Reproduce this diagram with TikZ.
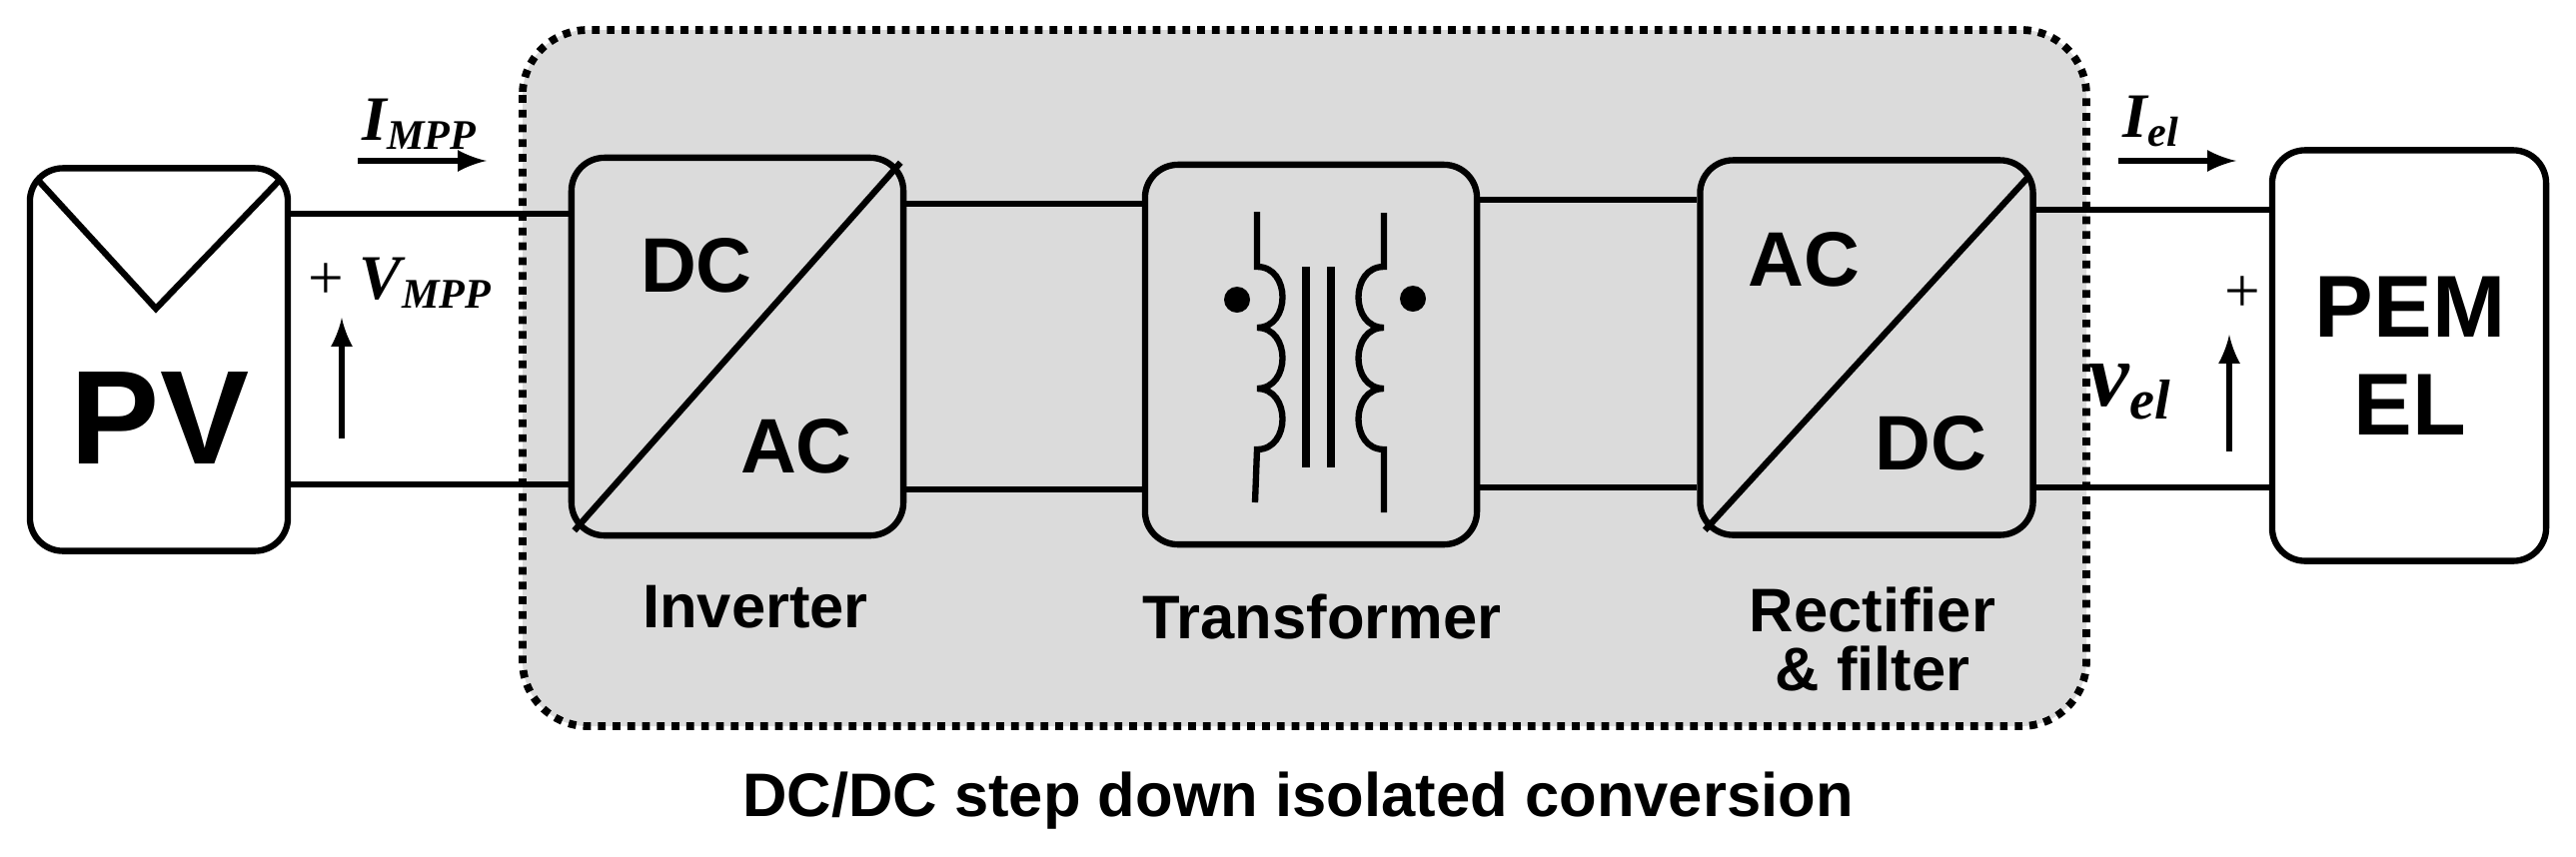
\documentclass[tikz,border=0pt]{standalone}
\usepackage{fontspec}
\usetikzlibrary{calc}
\setmainfont{Liberation Sans}
\newfontfamily\tms{Liberation Serif}
\begin{document}
\begin{tikzpicture}[x=0.01cm,y=-0.01cm,
  box/.style={draw,line width=1.8pt,rounded corners=0.33cm,fill=white,inner sep=0pt},
  gbox/.style={box,fill=gray!28},
  wire/.style={line width=1.8pt},
  arr/.style={line width=1.8pt,-latex},
  lbl/.style={font=\bfseries\fontsize{17.5}{20}\selectfont,align=center},
  cv/.style={font=\bfseries\fontsize{22}{24}\selectfont},
  math/.style={font=\tms\bfseries\itshape\fontsize{18}{20}\selectfont}]
\useasboundingbox (0,0) rectangle (2578,857);
\fill[white] (0,0) rectangle (2578,857);
\draw[fill=gray!28,line width=2.2pt,dotted,rounded corners=0.65cm] (523,30) rectangle (2088,727);
% PV
\node[box,minimum width=2.58cm,minimum height=3.83cm] (pv) at (159,360) {};
\draw[line width=1.8pt] (36,178) -- (156,309) -- (282,178);
\node[font=\bfseries\fontsize{38}{40}\selectfont] (pvt) at (160,419) {PV};
% inverter
\node[gbox,minimum width=3.32cm,minimum height=3.78cm] (inv) at (738,347) {};
\draw[line width=1.8pt] ($(inv.south west)+(6,-8)$) -- ($(inv.north east)+(-6,8)$);
\node[cv] (dc1) at (697,266) {DC};
\node[cv] (ac1) at (797,447) {AC};
\node[lbl] (invl) at (756,608) {Inverter};
% transformer
\node[gbox,minimum width=3.32cm,minimum height=3.8cm] (tr) at (1312,355) {};
\node[lbl] (trl) at (1323,617) {Transformer};
% rectifier
\node[gbox,minimum width=3.33cm,minimum height=3.75cm] (rec) at (1868,348) {};
\draw[line width=1.8pt] ($(rec.south west)+(8,-8)$) -- ($(rec.north east)+(-8,20)$);
\node[cv] (ac2) at (1805,260) {AC};
\node[cv] (dc2) at (1932,444) {DC};
\node[lbl] (recl) at (1874,640) {Rectifier\\[-3pt]\& filter};
% PEM
\node[box,minimum width=2.74cm,minimum height=4.11cm] (pem) at (2411,356) {};
\node[font=\bfseries\fontsize{25}{28}\selectfont,align=center] (pemt) at (2412,356) {PEM\\EL};
% wires
\draw[wire] (pv.east |- 0,214) -- (inv.west |- 0,214);
\draw[wire] (pv.east |- 0,485) -- (inv.west |- 0,485);
\draw[wire] (inv.east |- 0,204) -- (tr.west |- 0,204);
\draw[wire] (inv.east |- 0,490) -- (tr.west |- 0,490);
\draw[wire] (tr.east |- 0,200) -- (rec.west |- 0,200);
\draw[wire] (tr.east |- 0,488) -- (rec.west |- 0,488);
\draw[wire] (rec.east |- 0,210) -- (pem.west |- 0,210);
\draw[wire] (rec.east |- 0,488) -- (pem.west |- 0,488);
% transformer internals
\draw[line width=1.8pt] (1258,212) -- (1258,267)
  .. controls (1292,267) and (1292,328) .. (1258,328)
  .. controls (1292,328) and (1292,389) .. (1258,389)
  .. controls (1292,389) and (1292,450) .. (1258,450) -- (1256,503);
\draw[line width=1.8pt] (1385,213) -- (1385,267)
  .. controls (1351,267) and (1351,328) .. (1385,328)
  .. controls (1351,328) and (1351,389) .. (1385,389)
  .. controls (1351,389) and (1351,450) .. (1385,450) -- (1385,513);
\draw[line width=2.2pt] (1307,267) -- (1307,468) (1332,267) -- (1332,468);
\fill (1238,300) circle (13) (1414,299) circle (13);
% labels
\node[math,anchor=south west,inner sep=0pt] (imp) at (362,150) {I\textsubscript{\fontsize{12}{12}\selectfont MPP}};
\coordinate (ia) at (358,161); \coordinate (ib) at (487,161);
\draw[arr] (ia) -- (ib);
\node[math,anchor=west] (vmp) at (296,283) {{\normalfont\tms +} V\textsubscript{\fontsize{12}{12}\selectfont MPP}};
\coordinate (va) at (342,439); \coordinate (vb) at (342,318);
\draw[arr] (va) -- (vb);
\node[math,anchor=south west,inner sep=0pt] (iel) at (2124,148) {I\textsubscript{\fontsize{12}{12}\selectfont el}};
\coordinate (ja) at (2120,161); \coordinate (jb) at (2238,161);
\draw[arr] (ja) -- (jb);
\node[font=\tms\fontsize{18}{20}\selectfont] (pl) at (2244,295) {+};
\node[math,font=\tms\bfseries\itshape\fontsize{26}{28}\selectfont] (vel) at (2132,392) {v\textsubscript{\fontsize{16}{16}\selectfont el}};
\coordinate (ka) at (2231,452); \coordinate (kb) at (2231,335);
\draw[arr] (ka) -- (kb);
\node[lbl] (cap) at (1299,802) {DC/DC step down isolated conversion};
\end{tikzpicture}
\end{document}
